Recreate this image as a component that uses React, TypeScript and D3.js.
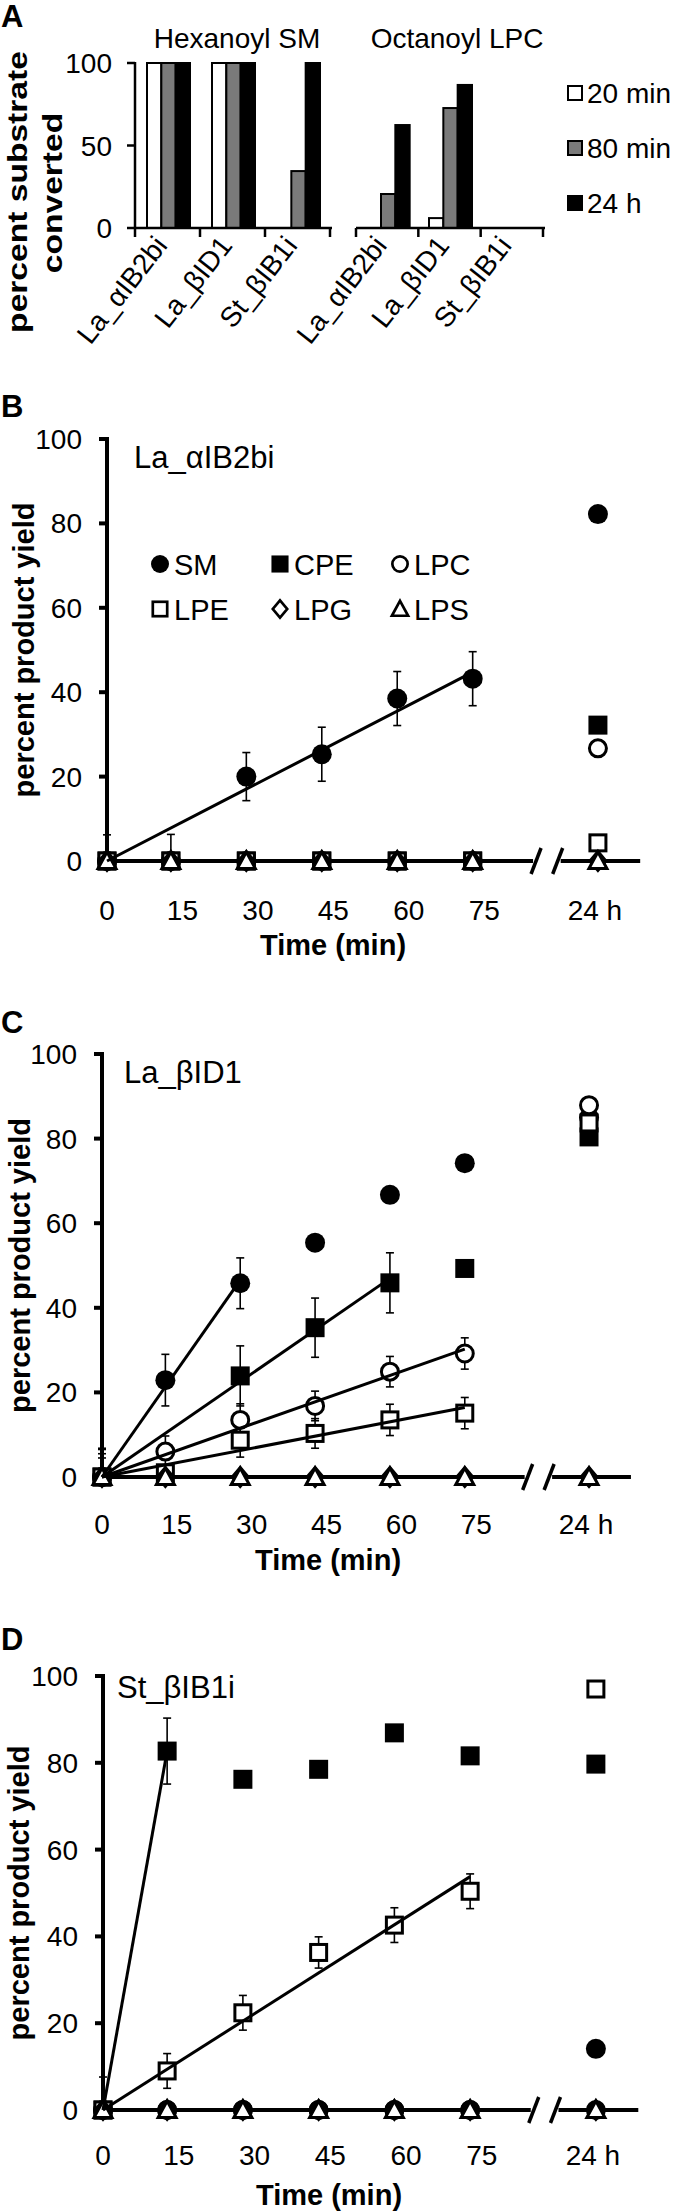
import React from "react";
import * as d3 from "d3";

const FONT = "'Liberation Sans', Arial, Helvetica, sans-serif";

// ---------- Panel A data ----------
const A_GROUPS = ["Hexanoyl SM", "Octanoyl LPC"];
const A_CATEGORIES = ["La_\u03b1IB2bi", "La_\u03b2ID1", "St_\u03b2IB1i"];
const A_SERIES = ["20 min", "80 min", "24 h"];
const A_SERIES_FILL = ["#ffffff", "#7a7a7a", "#000000"];
const A_HEX_20MIN = [100, 100, 0];
const A_HEX_80MIN = [100, 100, 34.5];
const A_HEX_24H = [100, 100, 100];
const A_OCT_20MIN = [0, 6, 0];
const A_OCT_80MIN = [20.6, 72.7, 0];
const A_OCT_24H = [62.4, 86.7, 0];
const A_TICKS = [0, 50, 100];

// ---------- Time-course data (B, C, D) ----------
const TIMES = [0, 12.7, 27.7, 42.7, 57.7, 72.7];
const TIME_TICKS = [0, 15, 30, 45, 60, 75];
const LABEL_24H = "24 h";
const YIELD_TICKS = [0, 20, 40, 60, 80, 100];
const SPECIES = ["SM", "CPE", "LPC", "LPE", "LPG", "LPS"];
const ZEROS = [0, 0, 0, 0, 0, 0];

// B: La_αIB2bi
const B_SM = [0, 0, 20, 25.3, 38.5, 43.2];
const B_SM_ERR = [6.2, 6.3, 5.7, 6.4, 6.4, 6.4];
const B_CPE = [0, 0, 0, 0, 0, 0];
const B_LPC = [0, 0, 0, 0, 0, 0];
const B_LPE = [0, 0, 0, 0, 0, 0];
const B_LPG = [0, 0, 0, 0, 0, 0];
const B_LPS = [0, 0, 0, 0, 0, 0];
const B_24H = [82.2, 32.2, 26.7, 4.3, 0, 0];
const B_FIT_END = [5, -1, -1, -1, -1, -1];

// C: La_βID1
const C_SM = [0, 22.9, 45.8, 55.4, 66.7, 74.2];
const C_SM_ERR = [6.5, 6.1, 6.0, 0, 0, 0];
const C_CPE = [0, null, 23.9, 35.3, 45.9, 49.3];
const C_CPE_ERR = [6.8, 0, 7.1, 7.0, 7.1, 0];
const C_LPC = [0, 6.0, 13.5, 16.8, 24.9, 29.2];
const C_LPC_ERR = [5.5, 3.7, 3.8, 3.5, 3.6, 3.7];
const C_LPE = [0, 1.0, 8.7, 10.3, 13.5, 15.1];
const C_LPE_ERR = [4.5, 0, 4.0, 3.5, 3.7, 3.7];
const C_LPG = [0, 0, 0, 0, 0, 0];
const C_LPS = [0, 0, 0, 0, 0, 0];
const C_24H = [85, 80.4, 87.9, 83.7, 0, 0];
const C_FIT_END = [2, 4, 5, 5, -1, -1];

// D: St_βIB1i
const D_SM = [0, 0, 0, 0, 0, 0];
const D_CPE = [0, 82.7, 76.2, 78.5, 86.9, 81.6];
const D_CPE_ERR = [7.6, 7.6, 0, 0, 0, 0];
const D_LPC = [0, 0, 0, 0, 0, 0];
const D_LPE = [0, 9.0, 22.4, 36.3, 42.6, 50.4];
const D_LPE_ERR = [0, 4.0, 4.0, 3.6, 4.0, 4.0];
const D_LPG = [0, 0, 0, 0, 0, 0];
const D_LPS = [0, 0, 0, 0, 0, 0];
const D_24H = [14.1, 79.7, 0, 97.0, 0, 0];
const D_FIT_END = [-1, 1, -1, 5, -1, -1];

type Series = { name: string; values: (number | null)[]; err: number[]; v24: number; fitEnd: number };

function buildSeries(vals: (number | null)[][], errs: number[][], v24: number[], fit: number[]): Series[] {
  return SPECIES.map((name, i) => ({ name, values: vals[i], err: errs[i], v24: v24[i], fitEnd: fit[i] }));
}

const B_SERIES = buildSeries([B_SM, B_CPE, B_LPC, B_LPE, B_LPG, B_LPS], [B_SM_ERR, ZEROS, ZEROS, ZEROS, ZEROS, ZEROS], B_24H, B_FIT_END);
const C_SERIES = buildSeries([C_SM, C_CPE, C_LPC, C_LPE, C_LPG, C_LPS], [C_SM_ERR, C_CPE_ERR, C_LPC_ERR, C_LPE_ERR, ZEROS, ZEROS], C_24H, C_FIT_END);
const D_SERIES = buildSeries([D_SM, D_CPE, D_LPC, D_LPE, D_LPG, D_LPS], [ZEROS, D_CPE_ERR, ZEROS, D_LPE_ERR, ZEROS, ZEROS], D_24H, D_FIT_END);

// ---------- markers ----------
function Marker({ type, x, y, s = 1 }: { type: string; x: number; y: number; s?: number }) {
  const sw = 3 * s;
  switch (type) {
    case "SM":
      return <circle cx={x} cy={y} r={10 * s} fill="#000" />;
    case "CPE":
      return <rect x={x - 9.5 * s} y={y - 9.5 * s} width={19 * s} height={19 * s} fill="#000" />;
    case "LPC":
      return <circle cx={x} cy={y} r={8.5 * s} fill="#fff" stroke="#000" strokeWidth={sw} />;
    case "LPE":
      return <rect x={x - 8 * s} y={y - 8 * s} width={16 * s} height={16 * s} fill="#fff" stroke="#000" strokeWidth={sw} />;
    case "LPG":
      return (
        <path
          d={`M${x},${y - 9.5 * s}L${x + 8 * s},${y}L${x},${y + 9.5 * s}L${x - 8 * s},${y}Z`}
          fill="#fff"
          stroke="#000"
          strokeWidth={sw}
        />
      );
    case "LPS":
      return (
        <path
          d={`M${x},${y - 9 * s}L${x + 9 * s},${y + 7.5 * s}L${x - 9 * s},${y + 7.5 * s}Z`}
          fill="#fff"
          stroke="#000"
          strokeWidth={sw}
          strokeLinejoin="miter"
        />
      );
  }
  return null;
}

// ---------- Panel A ----------
function PanelA() {
  const y = d3.scaleLinear().domain([0, 100]).range([228, 63]);
  const groupRanges: [number, number][] = [
    [135, 330],
    [356, 543],
  ];
  const groupData = [
    [A_HEX_20MIN, A_HEX_80MIN, A_HEX_24H],
    [A_OCT_20MIN, A_OCT_80MIN, A_OCT_24H],
  ];
  const titleX = [237, 457];
  return (
    <g>
      <text x={1} y={27} fontSize={31} fontWeight="bold">A</text>
      {A_GROUPS.map((g, gi) => (
        <text key={g} x={titleX[gi]} y={48} fontSize={28} textAnchor="middle">{g}</text>
      ))}
      <text transform="translate(27,192) scale(1,1.2) rotate(-90)" fontSize={28} fontWeight="bold" textAnchor="middle">percent substrate</text>
      <text transform="translate(62,193) scale(1,1.2) rotate(-90)" fontSize={28} fontWeight="bold" textAnchor="middle">converted</text>
      {A_TICKS.map((t) => (
        <g key={t}>
          <line x1={127} x2={135} y1={y(t)} y2={y(t)} stroke="#000" strokeWidth={2.5} />
          <text x={112} y={y(t) + 10} fontSize={28} textAnchor="end">{t}</text>
        </g>
      ))}
      <line x1={135} x2={135} y1={y(100) - 1} y2={y(0)} stroke="#000" strokeWidth={2.5} />
      {groupRanges.map((r, gi) => {
        const xb = d3.scaleBand<string>().domain(A_CATEGORIES).range(r);
        const inner = d3.scaleBand<string>().domain(A_SERIES).range([-21.5, 21.5]);
        return (
          <g key={gi}>
            {A_CATEGORIES.map((c, ci) => {
              const cx = (xb(c) as number) + xb.bandwidth() / 2 + 1;
              return (
                <g key={c}>
                  {A_SERIES.map((s, si) => {
                    const v = groupData[gi][si][ci];
                    if (v <= 0) return null;
                    return (
                      <rect
                        key={s}
                        x={cx + (inner(s) as number)}
                        y={y(v)}
                        width={inner.bandwidth()}
                        height={y(0) - y(v)}
                        fill={A_SERIES_FILL[si]}
                        stroke="#000"
                        strokeWidth={2}
                      />
                    );
                  })}
                  <text
                    transform={`translate(${cx},${246}) rotate(-52)`}
                    fontSize={28}
                    textAnchor="end"
                  >
                    {c}
                  </text>
                </g>
              );
            })}
            <line x1={r[0]} x2={r[1] + 2} y1={y(0)} y2={y(0)} stroke="#000" strokeWidth={2.5} />
            {[0, 1, 2, 3].map((k) => {
              const tx = r[0] + (k * (r[1] - r[0])) / 3;
              return <line key={k} x1={tx} x2={tx} y1={y(0)} y2={y(0) + 9} stroke="#000" strokeWidth={2.5} />;
            })}
          </g>
        );
      })}
      {A_SERIES.map((s, si) => {
        const cy = 93 + si * 55;
        return (
          <g key={s}>
            <rect x={568} y={cy - 7} width={14} height={14} fill={A_SERIES_FILL[si]} stroke="#000" strokeWidth={2} />
            <text x={587} y={cy + 10} fontSize={28}>{s}</text>
          </g>
        );
      })}
    </g>
  );
}

// ---------- Time-course panel ----------
type Layout = {
  letter: string;
  letterY: number;
  title: string;
  titleX: number;
  titleY: number;
  axisX: number;
  k: number;
  yTop: number;
  yBottom: number;
  tickY: number;
  axisTitleY: number;
  yLabelX: number;
  legend: boolean;
};

const POS_24H = 97.6;
const BREAK_1 = 85.3;
const BREAK_2 = 89.6;
const AXIS_END = 106;

function fitSlope(values: (number | null)[], end: number) {
  let sxy = 0;
  let sxx = 0;
  for (let i = 0; i <= end; i++) {
    const v = values[i];
    if (v == null) continue;
    sxy += TIMES[i] * v;
    sxx += TIMES[i] * TIMES[i];
  }
  return sxx > 0 ? sxy / sxx : 0;
}

function TimePanel({ L, series }: { L: Layout; series: Series[] }) {
  const x = d3.scaleLinear().domain([0, 1]).range([L.axisX, L.axisX + L.k]);
  const y = d3.scaleLinear().domain([0, 100]).range([L.yBottom, L.yTop]);
  const y0 = y(0);
  const slash = (t: number) => {
    const cx = x(t);
    return <line x1={cx - 5} y1={y0 + 13} x2={cx + 5} y2={y0 - 13} stroke="#000" strokeWidth={3.5} />;
  };
  const midY = (L.yTop + L.yBottom) / 2;
  return (
    <g>
      <text x={1} y={L.letterY} fontSize={31} fontWeight="bold">{L.letter}</text>
      <text x={L.titleX} y={L.titleY} fontSize={31}>{L.title}</text>
      <text transform={`translate(${L.yLabelX},${midY}) rotate(-90)`} fontSize={29} fontWeight="bold" textAnchor="middle">
        percent product yield
      </text>
      {/* y axis */}
      <line x1={L.axisX} x2={L.axisX} y1={y(100) - 2} y2={y0} stroke="#000" strokeWidth={4} />
      {YIELD_TICKS.map((t) => (
        <g key={t}>
          <line x1={L.axisX - 8} x2={L.axisX} y1={y(t)} y2={y(t)} stroke="#000" strokeWidth={4} />
          <text x={L.axisX - 25} y={y(t) + 10} fontSize={28} textAnchor="end">{t}</text>
        </g>
      ))}
      {/* x axis with break */}
      <line x1={L.axisX} x2={x(BREAK_1) - 3} y1={y0} y2={y0} stroke="#000" strokeWidth={4} />
      <line x1={x(BREAK_2) + 3} x2={x(AXIS_END)} y1={y0} y2={y0} stroke="#000" strokeWidth={4} />
      {slash(BREAK_1)}
      {slash(BREAK_2)}
      {TIME_TICKS.map((t) => (
        <text key={t} x={x(t)} y={L.tickY} fontSize={28} textAnchor="middle">{t}</text>
      ))}
      <text x={x(POS_24H) - 3} y={L.tickY} fontSize={28} textAnchor="middle">{LABEL_24H}</text>
      <text x={L.axisX + 226} y={L.axisTitleY} fontSize={29} fontWeight="bold" textAnchor="middle">Time (min)</text>

      {/* error bars */}
      {series.map((s) =>
        s.values.map((v, i) => {
          const e = s.err[i];
          if (v == null || !e) return null;
          const cx = x(TIMES[i]);
          const top = y(v + e);
          const bot = y(Math.max(0, v - e));
          return (
            <g key={s.name + i} stroke="#000" strokeWidth={1.6}>
              <line x1={cx} x2={cx} y1={top} y2={bot} />
              <line x1={cx - 4} x2={cx + 4} y1={top} y2={top} />
              {v - e > 0 && <line x1={cx - 4} x2={cx + 4} y1={bot} y2={bot} />}
            </g>
          );
        })
      )}
      {/* markers */}
      {series.map((s) => (
        <g key={s.name}>
          {s.values.map((v, i) => (v == null ? null : <Marker key={i} type={s.name} x={x(TIMES[i])} y={y(v)} />))}
          <Marker type={s.name} x={x(POS_24H)} y={y(s.v24)} />
        </g>
      ))}
      {/* trend lines through origin */}
      {series.map((s) => {
        if (s.fitEnd < 0) return null;
        const m = fitSlope(s.values, s.fitEnd);
        const t1 = TIMES[s.fitEnd];
        const line = d3
          .line<number>()
          .x((t) => x(t))
          .y((t) => y(m * t));
        return <path key={"fit" + s.name} d={line([0, t1]) || ""} stroke="#000" strokeWidth={3} fill="none" />;
      })}
      {/* legend */}
      {L.legend &&
        SPECIES.map((name, i) => {
          const col = i % 3;
          const row = Math.floor(i / 3);
          const mx = 160 + col * 120;
          const my = 564 + row * 45;
          return (
            <g key={name}>
              <Marker type={name} x={mx} y={my} s={0.9} />
              <text x={mx + 14} y={my + 11} fontSize={29}>{name}</text>
            </g>
          );
        })}
    </g>
  );
}

const LAYOUT_B: Layout = {
  letter: "B", letterY: 417, title: "La_\u03b1IB2bi", titleX: 134, titleY: 468,
  axisX: 107, k: 5.03, yTop: 439, yBottom: 861, tickY: 920, axisTitleY: 955, yLabelX: 34, legend: true,
};
const LAYOUT_C: Layout = {
  letter: "C", letterY: 1033, title: "La_\u03b2ID1", titleX: 124, titleY: 1083,
  axisX: 102, k: 4.99, yTop: 1054, yBottom: 1477, tickY: 1534, axisTitleY: 1570, yLabelX: 30, legend: false,
};
const LAYOUT_D: Layout = {
  letter: "D", letterY: 1650, title: "St_\u03b2IB1i", titleX: 117, titleY: 1698,
  axisX: 103, k: 5.05, yTop: 1676, yBottom: 2110, tickY: 2165, axisTitleY: 2205, yLabelX: 29, legend: false,
};

export default function App() {
  return (
    <svg
      width={675}
      height={2212}
      style={{ position: "absolute", left: 0, top: 0, background: "#fff" }}
      fontFamily={FONT}
    >
      <rect width={675} height={2212} fill="#fff" />
      <PanelA />
      <TimePanel L={LAYOUT_B} series={B_SERIES} />
      <TimePanel L={LAYOUT_C} series={C_SERIES} />
      <TimePanel L={LAYOUT_D} series={D_SERIES} />
    </svg>
  );
}
